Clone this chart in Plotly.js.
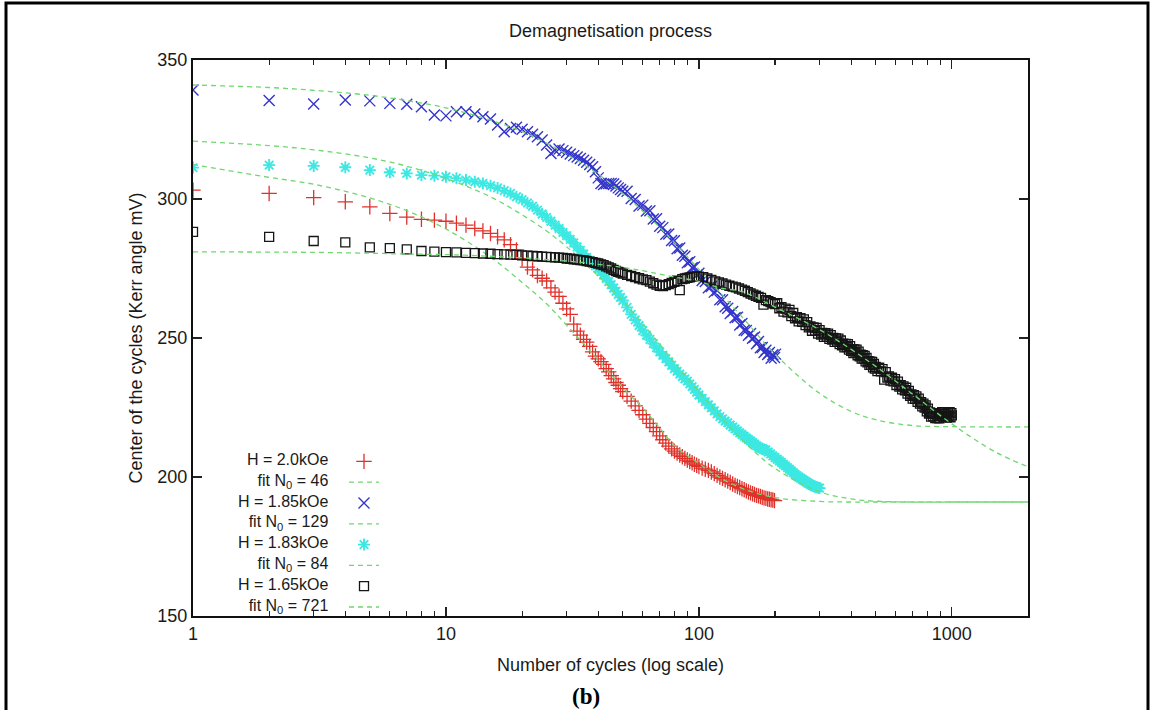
<!DOCTYPE html>
<html>
<head>
<meta charset="utf-8">
<script src="https://cdn.plot.ly/plotly-3.0.1.min.js"></script>
<style>
  html, body { margin: 0; padding: 0; background: #fff; }
  #chart { width: 1152px; height: 710px; }
</style>
</head>
<body>
<div id="chart"></div>
<script>
// ---------------- data ----------------
const redName = "H = 2.0kOe";
const redN = [1,2,3,4,5,6,7,8,9,10,11,12,13,14,15,16,17,18,19,20,21,22,23,24,25,26,27,28,29,30,31,32,33,34,35,36,37,38,39,40,41,42,43,44,45,46,47,48,49,50,
  52,54,56,58,60,62,64,66,68,70,72,74,76,78,80,82,84,86,88,90,92,94,96,98,100,
  103,106,109,112,115,118,121,124,127,130,133,136,139,142,145,148,151,154,157,160,163,166,169,172,175,178,181,184,187,190,193,196,199];
const redVal = [303.2,302,300.5,299,297.2,294.8,293.5,292.7,292.4,292,291.3,290.6,289.4,288.5,287.6,286.4,285.3,283.6,281.7,278.5,275.5,274.5,272.5,271.5,270.5,268,266.5,265,262.5,260.5,258.5,255,252.5,251,249.5,248.5,247,245,243.5,242.5,241.5,240.5,239,237.8,236.5,235.3,234,233,231.8,230.7,
  229,227.3,225.6,224,222.4,220.8,219.3,217.8,216.3,214.8,213.4,212.2,211.1,210.1,209.3,208.6,207.9,207.3,206.7,206.1,205.6,205.1,204.6,204.2,203.8,
  203.2,202.8,202.4,201.8,201.2,200.6,200,199.5,199,198.5,198,197.5,197,196.6,196.2,195.8,195.4,195,194.6,194.3,194,193.7,193.4,193.2,193,192.7,192.5,192.3,192.1,192,191.8,191.7,191.5];

const blueName = "H = 1.85kOe";
const blueN = [1,2,3,4,5,6,7,8,9,10,11,12,13,14,15,16,17,18,19,20,21,22,23,24,25,26,27,28,29,30,31,32,33,34,35,36,37,38,39,40,41,42,43,44,45,46,47,48,49,50,
  52,54,56,58,60,62,64,66,68,70,72,74,76,78,80,82,84,86,88,90,92,94,96,98,100,
  103,106,109,112,115,118,121,124,127,130,133,136,139,142,145,148,151,154,157,160,163,166,169,172,175,178,181,184,187,190,193,196,199,201];
const blueVal = [339.2,335.4,334.2,335.6,335.3,334.4,334.1,333.2,330.2,329.9,331.4,331.4,330.6,329.6,328.8,326.6,324.2,325.4,325.8,325.1,324.2,323.3,322.4,321.2,319.4,316.4,317.5,318,317.4,316.8,316.2,315.6,315.1,314.6,313.9,313.2,312.4,311.6,309.8,307.6,305.6,305.2,305.5,305.6,305.6,305.4,304.7,304,303.4,302.8,
  302.8,300.2,299.8,297.5,297.8,295.7,295.8,292.8,292.9,290.2,289.7,287.3,287.4,285.1,285.0,282.1,282.4,279.8,279.4,277.1,277.4,275.3,275.5,272.6,273.3,
  270.7,270.3,268.1,268.5,266.5,267.1,263.8,263.8,261.2,260.7,258.8,259.5,257.3,257.5,254.7,255.2,252.8,252.7,251.0,251.6,249.9,250.4,247.9,248.7,246.5,246.6,244.8,245.6,244.1,244.8,242.7,244.0,243.0,244.2];

const cyanName = "H = 1.83kOe";
const cyanN = [1,2,3,4,5,6,7,8,9,10,11,12,13,14,15,16,17,18,19,20,21,22,23,24,25,26,27,28,29,30,31,32,33,34,35,36,37,38,39,40,41,42,43,44,45,46,47,48,49,50,
  52,54,56,58,60,62,64,66,68,70,72,74,76,78,80,82,84,86,88,90,92,94,96,98,100,
  103,106,109,112,115,118,121,124,127,130,133,136,139,142,145,148,151,154,157,160,163,166,169,172,175,178,181,184,
  188,192,196,200,204,208,212,216,220,224,228,232,236,240,244,248,252,256,260,264,268,272,276,280,284,288,292,296,300];
const cyanVal = [311.3,312.2,311.9,311.4,310.4,309.6,309.2,308.6,308.4,308,307.5,306.8,306.2,305.6,304.8,304,303,302,300.8,299.8,298.6,297.4,296,294.6,293.4,292,290.6,289.4,288,286.8,285.5,284.2,282.8,281.5,280.2,279,278,277,276,275,273.8,272.6,271.5,270.3,269.2,268,266.8,265.7,264.6,263.5,
  261,258.5,256.5,254.5,252.7,251,249.5,248,246.5,245,243.8,242.6,241.4,240.2,239,238,237,236.1,235.3,234.5,233.5,232.5,231.5,230.5,229.5,
  228.3,227.1,226,224.9,223.8,222.7,221.7,220.9,220.1,219.5,218.7,218,217.3,216.6,215.9,215.3,214.7,214.1,213.5,213,212.4,211.8,211.3,210.8,210.4,210.1,209.9,209.7,
  209,208.3,207.6,207,206.4,205.8,205.2,204.6,204,203.4,202.8,202.2,201.6,201,200.5,200,199.6,199.2,198.8,198.4,198,197.6,197.3,197,196.7,196.5,196.3,196.1,196];

const blackName = "H = 1.65kOe";
const blackN = [1,2,3,4,5,6,7,8,9,10,11,12,13,14,15,16,17,18,19,20,21,22,23,24,25,26,27,28,29,30,31,32,33,34,35,36,37,38,39,40,41,42,43,44,45,46,47,48,49,50,
  52,54,56,58,60,62,64,66,68,70,72,74,76,78,80,82,84,86,88,90,92,94,96,98,100,
  104,108,112,116,120,124,128,132,136,140,144,148,152,156,160,164,168,172,176,180,184,188,192,196,200,
  204,208,212,216,220,224,228,232,236,240,244,248,252,256,260,264,268,272,276,280,284,288,292,296,300,
  304,308,312,316,320,324,328,332,336,340,344,348,352,356,360,364,368,372,376,380,384,388,392,396,400,
  404,408,412,416,420,424,428,432,436,440,444,448,452,456,460,464,468,472,476,480,484,488,492,496,500,
  508,516,524,532,540,548,556,564,572,580,588,596,604,612,620,628,636,644,652,660,668,676,684,692,700,
  708,716,724,732,740,748,756,764,772,780,788,796,804,812,820,828,836,844,852,860,868,876,884,892,900,
  908,916,924,932,940,948,956,964,972,980,988,996,1000];
const blackVal = [288.2,286.4,284.9,284.4,282.6,282.3,281.9,281.3,281.1,280.9,280.8,280.6,280.5,280.4,280.3,280.2,280.1,280,279.9,279.7,279.6,279.5,279.4,279.3,279.2,279.1,279,278.9,278.8,278.6,278.5,278.3,278.2,278,277.9,277.7,277.5,277.3,277,276.8,276.5,276.2,275.8,275.4,275,274.5,274.1,273.8,273.5,273.2,
  272.7,272.3,271.9,271.5,271.1,270.8,270.3,269.7,269.2,268.8,268.7,269,269.4,269.8,270.2,270.6,267.2,271.2,271.4,271.6,271.8,272,272.1,272.1,272.1,
  271.9,271.4,270.9,270.4,270,269.6,269.2,268.8,268.5,268.2,267.8,267.4,267,266.5,266,265.6,265.2,264.8,264.4,262,263.6,263.3,262.9,262.5,262.2,
  262.5,260.7,261.1,259.5,260.6,259.2,260.1,257.9,259.0,257.1,257.5,256.0,257.1,255.8,256.7,254.6,255.7,253.8,254.2,252.6,253.8,252.6,253.6,251.6,252.8,
  251.2,251.8,250.4,251.7,250.5,251.6,249.7,251.0,249.4,250.0,248.6,249.9,248.7,249.8,247.8,249.1,247.4,248.0,246.6,247.9,246.7,247.8,245.8,247.1,245.4,
  246.0,244.6,245.9,244.7,245.8,243.8,245.1,243.4,244.0,242.6,243.8,242.6,243.6,241.6,242.8,241.2,241.7,240.3,241.5,240.3,241.4,239.4,240.7,239.0,239.6,
  238.1,239.3,238.0,238.8,235.0,237.7,235.8,236.2,234.7,235.7,234.4,235.2,233.1,234.3,232.5,233.0,231.5,232.6,231.2,232.1,230.0,231.0,229.2,229.7,228.2,
  229.4,228.1,229.0,227.0,228.2,226.4,226.9,225.4,226.4,225.0,225.8,223.6,224.6,222.8,223.2,221.7,222.9,221.8,223.0,221.2,222.6,221.2,222.1,221.1,222.7,
  221.9,223.3,221.7,223.2,221.8,222.5,221.4,222.9,222.0,223.3,221.5,223.0,222.2];

// fitted curves (green dashed)
const fitNames = ["fit N<sub>0</sub> = 46", "fit N<sub>0</sub> = 129", "fit N<sub>0</sub> = 84", "fit N<sub>0</sub> = 721"];
const fitN = [1,2,3,5,7,10,15,20,25,30,40,50,60,70,80,100,120,150,200,300,400,500,700,1000,1500,2000];
const fitRedVal   = [312.4,307.8,305.3,300.4,295.8,289.2,279.1,270.0,262.3,254.6,242.1,232.1,224.8,217.6,211.3,204.9,200.0,195.7,192.6,191.2,191.0,191.0,191.0,191.0,191.0,191.0];
const fitBlueVal  = [341.0,340.1,339.1,337.3,335.4,332.8,328.4,324.2,320.1,316.1,308.9,302.0,295.6,289.8,284.3,274.7,266.8,257.0,244.2,230.1,223.6,220.6,218.5,218.1,218.0,218.0];
const fitCyanVal  = [320.8,319.2,317.7,314.8,311.8,307.4,300.8,294.3,288.5,282.8,272.3,263.3,255.1,247.8,241.2,230.7,222.4,212.9,203.1,194.7,192.1,191.3,191.0,191.0,191.0,191.0];
const fitBlackVal = [281.0,280.9,280.8,280.5,280.2,280.0,279.4,278.8,278.2,277.7,276.5,275.4,274.2,273.0,271.9,270.4,268.1,266.5,261.1,253.0,245.9,239.8,229.8,219.1,208.8,203.7];

const xTickVals = [1,10,100,1000];
const xTickText = ["1","10","100","1000"];

// legend labels in gnuplot order (text right-aligned, key sample to the right)
const legendLabels = [redName, fitNames[0], blueName, fitNames[1], cyanName, fitNames[2], blackName, fitNames[3]];

// ---------------- styles ----------------
const FONT = "Liberation Sans, Arial, sans-serif";
const FS = 18;
const TXT = "#1a1a1a";
const fitLine = {color: "#6fd86f", width: 1.3, dash: "5px,4px"};

// plot area in pixels (for placing frame/caption/legend)
const L = 193, R = 1028, T = 60, B = 616;
const px2x = p => (p - L) / (R - L);
const px2y = p => (B - p) / (B - T);

// legend geometry: one right-aligned multi-line text block (line step = 1.3*font)
// and a plotly legend holding only the key samples, with the same row step
const LEG_TFS = 16, LEG_STEP = 1.3 * LEG_TFS, LEG_ROW0 = 461, LEG_TEXT_RIGHT = 330;
const LEG_KFS = (LEG_STEP - 3) / 1.3;

const traces = [
  {x: redN, y: redVal, name: "", mode: "markers", type: "scatter", showlegend: true,
   marker: {symbol: "cross-thin-open", size: 11, color: "#e0302a", line: {width: 1.3, color: "#e0302a"}}},
  {x: fitN, y: fitRedVal, name: "", mode: "lines", type: "scatter", showlegend: true, line: Object.assign({shape: "spline"}, fitLine)},
  {x: blueN, y: blueVal, name: "", mode: "markers", type: "scatter", showlegend: true,
   marker: {symbol: "x-thin-open", size: 11, color: "#3434cc", line: {width: 1.4, color: "#3434cc"}}},
  {x: fitN, y: fitBlueVal, name: "", mode: "lines", type: "scatter", showlegend: true, line: Object.assign({shape: "spline"}, fitLine)},
  {x: cyanN, y: cyanVal, name: "", mode: "markers", type: "scatter", showlegend: true,
   marker: {symbol: "asterisk-open", size: 10, color: "#3ce8e2", line: {width: 1.9, color: "#3ce8e2"}}},
  {x: fitN, y: fitCyanVal, name: "", mode: "lines", type: "scatter", showlegend: true, line: Object.assign({shape: "spline"}, fitLine)},
  {x: blackN, y: blackVal, name: "", mode: "markers", type: "scatter", showlegend: true,
   marker: {symbol: "square-open", size: 9, color: "#151515", line: {width: 1.3, color: "#151515"}}},
  {x: fitN, y: fitBlackVal, name: "", mode: "lines", type: "scatter", showlegend: true, line: Object.assign({shape: "spline"}, fitLine)}
];

const minorVals = [];
[1,10,100,1000].forEach(d => { for (let k = 2; k <= 9; k++) { if (d*k <= 2000) minorVals.push(d*k); } });

const annotations = [
  {text: legendLabels.join("<br>"), xref: "paper", yref: "paper",
   x: px2x(LEG_TEXT_RIGHT), y: px2y(LEG_ROW0 + 3.5 * LEG_STEP),
   xanchor: "right", yanchor: "middle", showarrow: false, align: "right",
   font: {family: FONT, size: LEG_TFS, color: TXT}},
  {text: "<b>(b)</b>", xref: "paper", yref: "paper", x: px2x(586), y: px2y(696), xanchor: "center", yanchor: "middle",
   showarrow: false, font: {family: "Liberation Serif, Times New Roman, serif", size: 23, color: "#000"}}
];

const layout = {
  width: 1152, height: 710,
  paper_bgcolor: "#fff", plot_bgcolor: "#fff",
  margin: {l: L, r: 1152 - R, t: T, b: 710 - B},
  font: {family: FONT, size: FS, color: TXT},
  title: {text: "Demagnetisation process", font: {family: FONT, size: FS, color: TXT},
          x: 0.5, xref: "paper", xanchor: "center", y: 1 - 31/710, yanchor: "middle"},
  showlegend: true,
  legend: {x: px2x(344), xanchor: "left", y: px2y(LEG_ROW0 - 15), yanchor: "top",
           bgcolor: "rgba(0,0,0,0)", borderwidth: 0, font: {family: FONT, size: LEG_KFS, color: TXT},
           tracegroupgap: 0, itemwidth: 30},
  xaxis: {type: "log", range: [0, Math.log10(2000)], autorange: false,
          tickmode: "array", tickvals: xTickVals, ticktext: xTickText,
          ticks: "inside", ticklen: 9, tickwidth: 1.3, tickcolor: "#222",
          showline: true, linecolor: "#111", linewidth: 2, mirror: "allticks",
          showgrid: false, zeroline: false,
          minor: {tickmode: "array", tickvals: minorVals, ticks: "inside", ticklen: 5, tickwidth: 1.1, tickcolor: "#222", showgrid: false},
          tickfont: {family: FONT, size: FS, color: TXT},
          title: {text: "Number of cycles (log scale)", font: {family: FONT, size: FS, color: TXT}, standoff: 16}},
  yaxis: {range: [150, 350], autorange: false, tickmode: "linear", tick0: 150, dtick: 50,
          ticks: "inside", ticklen: 9, tickwidth: 1.3, tickcolor: "#222",
          showline: true, linecolor: "#111", linewidth: 2, mirror: "allticks",
          showgrid: false, zeroline: false,
          tickfont: {family: FONT, size: FS, color: TXT},
          title: {text: "Center of the cycles (Kerr angle mV)", font: {family: FONT, size: FS, color: TXT}, standoff: 10}},
  shapes: [
    {type: "rect", xref: "paper", yref: "paper", x0: px2x(6), x1: px2x(1148), y0: px2y(716), y1: px2y(3),
     line: {color: "#000", width: 3}, fillcolor: "rgba(0,0,0,0)", layer: "below"}
  ],
  annotations: annotations
};

Plotly.newPlot("chart", traces, layout, {displayModeBar: false, staticPlot: true});
</script>
</body>
</html>
